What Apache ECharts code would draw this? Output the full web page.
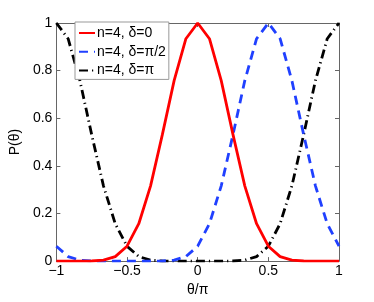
<!DOCTYPE html>
<html><head><meta charset="utf-8">
<script src="https://cdn.jsdelivr.net/npm/echarts@6/dist/echarts.min.js"></script>
<style>html,body{margin:0;padding:0;background:#fff}#c{width:374px;height:302px}</style>
</head><body><div id="c"></div>
<script>
const theta = [-1,-0.9167,-0.8333,-0.75,-0.6667,-0.5833,-0.5,-0.4167,-0.3333,-0.25,-0.1667,-0.0833,0,0.0833,0.1667,0.25,0.3333,0.4167,0.5,0.5833,0.6667,0.75,0.8333,0.9167,1];
const pDelta0 = [0,0,0,0.0005,0.004,0.019,0.0625,0.157,0.316,0.531,0.758,0.934,1,0.934,0.758,0.531,0.316,0.157,0.0625,0.019,0.004,0.0005,0,0,0];
const pDeltaHalfPi = [0.0625,0.019,0.004,0.0005,0,0,0,0,0,0.0005,0.004,0.019,0.0625,0.157,0.316,0.531,0.758,0.934,1,0.934,0.758,0.531,0.316,0.157,0.0625];
const pDeltaPi = [1,0.934,0.758,0.531,0.316,0.157,0.0625,0.019,0.004,0.0005,0,0,0,0,0,0.0005,0.004,0.019,0.0625,0.157,0.316,0.531,0.758,0.934,1];
const seriesNames = ['n=4, δ=0','n=4, δ=π/2','n=4, δ=π'];
const xTicks = [-1,-0.5,0,0.5,1];
const yTicks = [0,0.2,0.4,0.6,0.8,1];

const FONT = "'Liberation Sans', Arial, Helvetica, sans-serif";
const axisColor = '#666';
const pair = arr => theta.map((t,i)=>[t, arr[i]]);
const fmt = v => String(+v.toFixed(2)).replace('-', '\u2212');

const chart = echarts.init(document.getElementById('c'), null, {renderer:'canvas'});
chart.setOption({
  animation:false,
  backgroundColor:'#fff',
  textStyle:{fontFamily:FONT},
  grid:{left:49,right:35,top:23,bottom:34,show:false},
  xAxis:[{
    type:'value', min:xTicks[0], max:xTicks[xTicks.length-1], interval:0.5,
    name:'θ/π', nameLocation:'middle', nameGap:16,
    nameTextStyle:{fontSize:14,color:'#000',fontFamily:FONT},
    axisLine:{show:true,onZero:false,lineStyle:{color:axisColor,width:1}},
    axisTick:{show:true,inside:true,length:4,lineStyle:{color:axisColor}},
    axisLabel:{fontSize:14,color:'#000',margin:3,fontFamily:FONT,formatter:fmt},
    splitLine:{show:false}
  },{
    type:'value', position:'top', min:-1, max:1, interval:0.5,
    axisLine:{show:true,onZero:false,lineStyle:{color:axisColor,width:1}},
    axisTick:{show:true,inside:true,length:4,lineStyle:{color:axisColor}},
    axisLabel:{show:false}, splitLine:{show:false}
  }],
  yAxis:[{
    type:'value', min:yTicks[0], max:yTicks[yTicks.length-1], interval:0.2,
    name:'P(θ)', nameLocation:'middle', nameGap:29, nameRotate:90,
    nameTextStyle:{fontSize:14,color:'#000',fontFamily:FONT},
    axisLine:{show:true,onZero:false,lineStyle:{color:axisColor,width:1}},
    axisTick:{show:true,inside:true,length:4,lineStyle:{color:axisColor}},
    axisLabel:{fontSize:14,color:'#000',margin:4,fontFamily:FONT,formatter:fmt},
    splitLine:{show:false}
  },{
    type:'value', position:'right', min:0, max:1, interval:0.2,
    axisLine:{show:true,onZero:false,lineStyle:{color:axisColor,width:1}},
    axisTick:{show:true,inside:true,length:4,lineStyle:{color:axisColor}},
    axisLabel:{show:false}, splitLine:{show:false}
  }],
  legend:{
    orient:'vertical', left:75, top:22,
    itemWidth:16, itemHeight:14, itemGap:4.7,
    padding:[4,3,2,3],
    backgroundColor:'#fff', borderColor:'#999', borderWidth:1,
    itemStyle:{opacity:0},
    textStyle:{fontSize:14,color:'#000',fontFamily:FONT,padding:[0,0,0,-3]},
    data:seriesNames
  },
  series:[
    {name:seriesNames[0],type:'line',data:pair(pDelta0),showSymbol:false,symbol:'none',z:3,
     lineStyle:{color:'#ff0000',width:2.8,type:'solid'},itemStyle:{color:'#ff0000'}},
    {name:seriesNames[1],type:'line',data:pair(pDeltaHalfPi),showSymbol:false,symbol:'none',z:2,
     lineStyle:{color:'#2040ff',width:2.8,type:[9,6]},itemStyle:{color:'#2040ff'}},
    {name:seriesNames[2],type:'line',data:pair(pDeltaPi),showSymbol:false,symbol:'none',z:1,
     lineStyle:{color:'#000',width:2.8,type:[9,4,1.2,4]},itemStyle:{color:'#000'}}
  ]
});
</script></body></html>
